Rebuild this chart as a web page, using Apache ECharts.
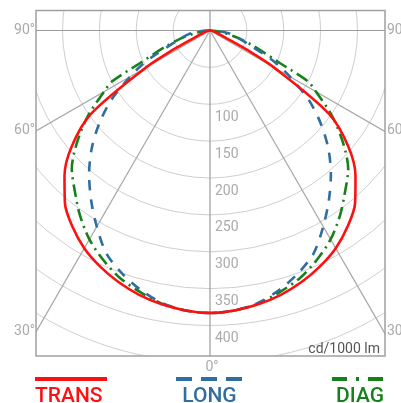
<!DOCTYPE html>
<html><head><meta charset="utf-8">
<script src="https://cdn.jsdelivr.net/npm/echarts@6/dist/echarts.min.js"></script>
<style>html,body{margin:0;padding:0;background:#fff}#c{width:401px;height:403px}</style>
</head><body><div id="c"></div>
<script>
// angle from nadir (degrees), values in cd/1000 lm
const angles = [0, 5, 10, 15, 20, 25, 30, 35, 40, 45, 50, 55, 60, 62.5, 65, 70, 75, 80, 85, 90];
const trans  = [383, 381, 377, 371, 363, 353, 341, 325, 306, 279, 245, 197, 100, 55, 25, 10, 5, 3, 1, 0];
const long   = [383, 381, 375, 364, 350, 333, 307, 281, 255, 227, 196, 163, 125, 108, 90, 57, 40, 30, 15, 0];
const diag   = [383, 381, 376, 367, 357, 343, 327, 307, 285, 265, 235, 202, 166, 150, 105, 65, 40, 20, 8, 0];
const ringLabels = ['100', '150', '200', '250', '300', '350', '400'];
const angleTickLabels = ['90°', '60°', '30°'];
const angleTickValues = [90, 60, 30];
const bottomLabel = '0°';
const unitLabel = 'cd/1000 lm';
const seriesNames = ['TRANS', 'LONG', 'DIAG'];

const colors = ['#ff1010', '#2f6e9e', '#17801a'];
const cx = 210, cy = 30.5, rMax = 500, rPx = 368.75;
const box = {x: 36, y: 10.5, w: 349, h: 345.5};

function mirror(vals) {
  const d = [];
  for (let i = angles.length - 1; i >= 0; i--) d.push([vals[i], angles[i]]);
  for (let i = 1; i < angles.length; i++) d.push([vals[i], 360 - angles[i]]);
  return d;
}

const chart = echarts.init(document.getElementById('c'), null, {renderer: 'canvas'});
const T = 'transparent', G1 = '#9a9a9a', G2 = '#a8a8a8';

const graphics = [
  {type: 'rect', shape: {x: 0, y: 0, width: box.x, height: 403}, style: {fill: '#fff'}, z: 100, silent: true},
  {type: 'rect', shape: {x: box.x + box.w, y: 0, width: 30, height: 403}, style: {fill: '#fff'}, z: 100, silent: true},
  {type: 'rect', shape: {x: 0, y: 0, width: 401, height: box.y}, style: {fill: '#fff'}, z: 100, silent: true},
  {type: 'rect', shape: {x: 0, y: box.y + box.h, width: 401, height: 60}, style: {fill: '#fff'}, z: 100, silent: true},
  {type: 'rect', shape: {x: box.x, y: box.y, width: box.w, height: box.h}, style: {fill: 'none', stroke: '#a0a0a0', lineWidth: 1.5}, z: 101, silent: true},
  {type: 'text', x: 380, y: 349, style: {text: unitLabel, fill: '#555', font: '14px Roboto', align: 'right', verticalAlign: 'middle'}, z: 101},
  {type: 'text', x: 212, y: 367, style: {text: bottomLabel, fill: '#aaa', font: '14px Roboto', align: 'center', verticalAlign: 'middle'}, z: 101}
];
angleTickValues.forEach((a, i) => {
  const dx = cx - box.x;
  const y = a === 90 ? cy : cy + dx / Math.tan(a * Math.PI / 180);
  graphics.push({type: 'text', x: box.x - 1, y: y, style: {text: angleTickLabels[i], fill: '#aaa', font: '14px Roboto', align: 'right', verticalAlign: 'middle'}, z: 101});
  graphics.push({type: 'text', x: box.x + box.w + 2, y: y, style: {text: angleTickLabels[i], fill: '#aaa', font: '14px Roboto', align: 'left', verticalAlign: 'middle'}, z: 101});
});
const legendY = 379;
graphics.push({type: 'line', shape: {x1: 35, y1: legendY, x2: 107, y2: legendY}, style: {stroke: colors[0], lineWidth: 4}, z: 101});
graphics.push({type: 'line', shape: {x1: 176, y1: legendY, x2: 242, y2: legendY}, style: {stroke: colors[1], lineWidth: 4, lineDash: [16, 9]}, z: 101});
graphics.push({type: 'line', shape: {x1: 332, y1: legendY, x2: 384, y2: legendY}, style: {stroke: colors[2], lineWidth: 4, lineDash: [15, 9, 3, 9]}, z: 101});
graphics.push({type: 'text', x: 35, y: 386, style: {text: seriesNames[0], fill: colors[0], font: '500 21px Roboto', align: 'left', verticalAlign: 'top'}, z: 101});
graphics.push({type: 'text', x: 209.5, y: 386, style: {text: seriesNames[1], fill: colors[1], font: '500 21px Roboto', align: 'center', verticalAlign: 'top'}, z: 101});
graphics.push({type: 'text', x: 384, y: 386, style: {text: seriesNames[2], fill: colors[2], font: '500 21px Roboto', align: 'right', verticalAlign: 'top'}, z: 101});

chart.setOption({
  animation: false,
  backgroundColor: '#fff',
  polar: {center: [cx, cy], radius: rPx},
  angleAxis: {
    type: 'value', min: 0, max: 360, interval: 30, startAngle: 270, clockwise: true,
    axisLine: {show: false}, axisTick: {show: false}, axisLabel: {show: false},
    splitLine: {show: true, lineStyle: {width: 1.2, color: [G1, G2, G2, G1, T, T, G1, T, T, G1, G2, G2, G1]}}
  },
  radiusAxis: {
    type: 'value', min: 0, max: rMax, interval: 50,
    axisLine: {show: false}, axisTick: {show: false},
    splitLine: {show: true, lineStyle: {color: '#cfcfcf', width: 1}},
    axisLabel: {
      show: true, color: '#aaa', fontSize: 14, fontFamily: 'Roboto', margin: 5,
      formatter: v => ringLabels.indexOf(String(v)) >= 0 ? String(v) : '',
      align: 'left', verticalAlign: 'top', padding: [6, 0, 0, 0]
    }
  },
  series: [
    {name: seriesNames[0], type: 'line', coordinateSystem: 'polar', data: mirror(trans), showSymbol: false, symbol: 'none', smooth: 0.3,
     lineStyle: {color: colors[0], width: 2.6}, z: 5},
    {name: seriesNames[1], type: 'line', coordinateSystem: 'polar', data: mirror(long), showSymbol: false, symbol: 'none', smooth: 0.3,
     lineStyle: {color: colors[1], width: 2.6, type: [10, 9]}, z: 4},
    {name: seriesNames[2], type: 'line', coordinateSystem: 'polar', data: mirror(diag), showSymbol: false, symbol: 'none', smooth: 0.3,
     lineStyle: {color: colors[2], width: 2.6, type: [13, 5, 2, 5]}, z: 3}
  ],
  graphic: graphics
});
</script></body></html>
